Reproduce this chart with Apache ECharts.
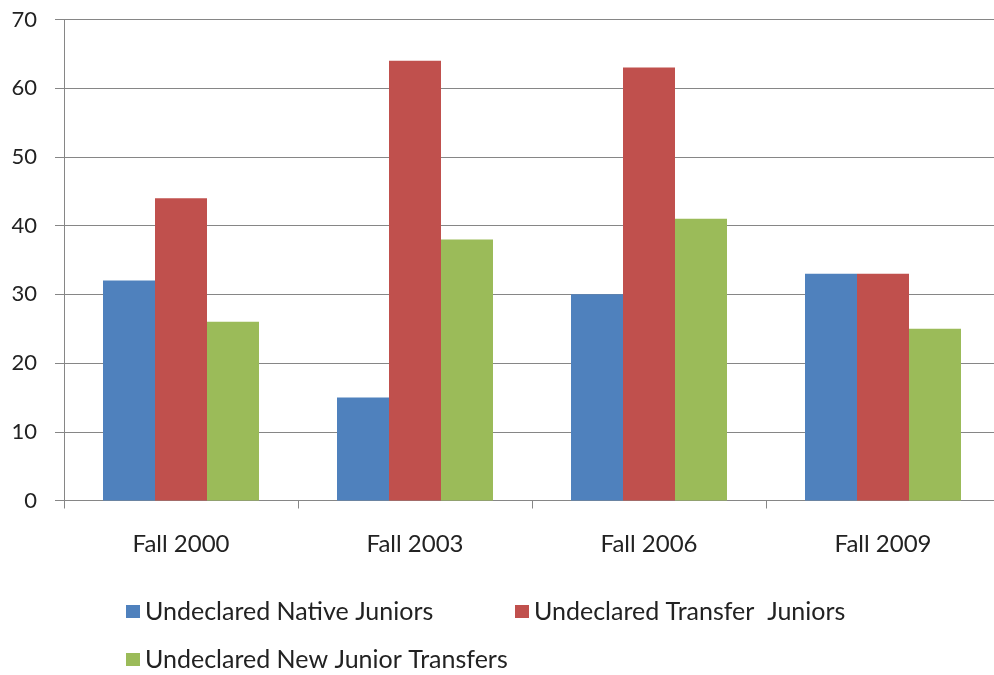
<!DOCTYPE html>
<html><head><meta charset="utf-8">
<script src="https://cdn.jsdelivr.net/npm/echarts@6/dist/echarts.min.js"></script>
<style>html,body{margin:0;padding:0;background:#fff;overflow:hidden}#c{width:1000px;height:675px}</style>
</head><body><div id="c"></div>
<script>
const categories = ['Fall 2000', 'Fall 2003', 'Fall 2006', 'Fall 2009'];
const seriesNames = ['Undeclared Native Juniors', 'Undeclared Transfer  Juniors', 'Undeclared New Junior Transfers'];
const nativeJuniors = [32, 15, 30, 33];
const transferJuniors = [44, 64, 63, 33];
const newJuniorTransfers = [26, 38, 41, 25];
const colors = ['#4F81BD', '#C0504D', '#9BBB59'];
const FONT = 'Lato, "Open Sans", sans-serif';

const chart = echarts.init(document.getElementById('c'));
const legendBase = {
  icon: 'rect', itemWidth: 14, itemHeight: 13, itemGap: 8, padding: 0,
  textStyle: { fontFamily: FONT, fontSize: 25, color: '#222' }
};
chart.setOption({
  animation: false,
  grid: { left: 64, right: 0, top: 19.5, height: 481 },
  legend: [
    Object.assign({ data: [seriesNames[0]], left: 126, top: 599 }, legendBase),
    Object.assign({ data: [seriesNames[1]], left: 515, top: 599 }, legendBase),
    Object.assign({ data: [seriesNames[2]], left: 126, top: 647 }, legendBase)
  ],
  xAxis: {
    type: 'category', data: categories,
    axisLine: { lineStyle: { color: '#868686' } },
    axisTick: { show: true, length: 8, lineStyle: { color: '#868686' } },
    axisLabel: { fontFamily: FONT, fontSize: 24, color: '#222', margin: 32 }
  },
  yAxis: {
    type: 'value', min: 0, max: 70, interval: 10,
    axisLine: { show: true, lineStyle: { color: '#868686' } },
    axisTick: { show: true, length: 9, lineStyle: { color: '#868686' } },
    axisLabel: { fontFamily: FONT, fontSize: 22, color: '#222', margin: 27 },
    splitLine: { lineStyle: { color: '#868686' } }
  },
  series: [
    { name: seriesNames[0], type: 'bar', data: nativeJuniors, itemStyle: { color: colors[0] }, barWidth: 52, barGap: '0%' },
    { name: seriesNames[1], type: 'bar', data: transferJuniors, itemStyle: { color: colors[1] }, barWidth: 52, barGap: '0%' },
    { name: seriesNames[2], type: 'bar', data: newJuniorTransfers, itemStyle: { color: colors[2] }, barWidth: 52, barGap: '0%' }
  ]
});
</script></body></html>
